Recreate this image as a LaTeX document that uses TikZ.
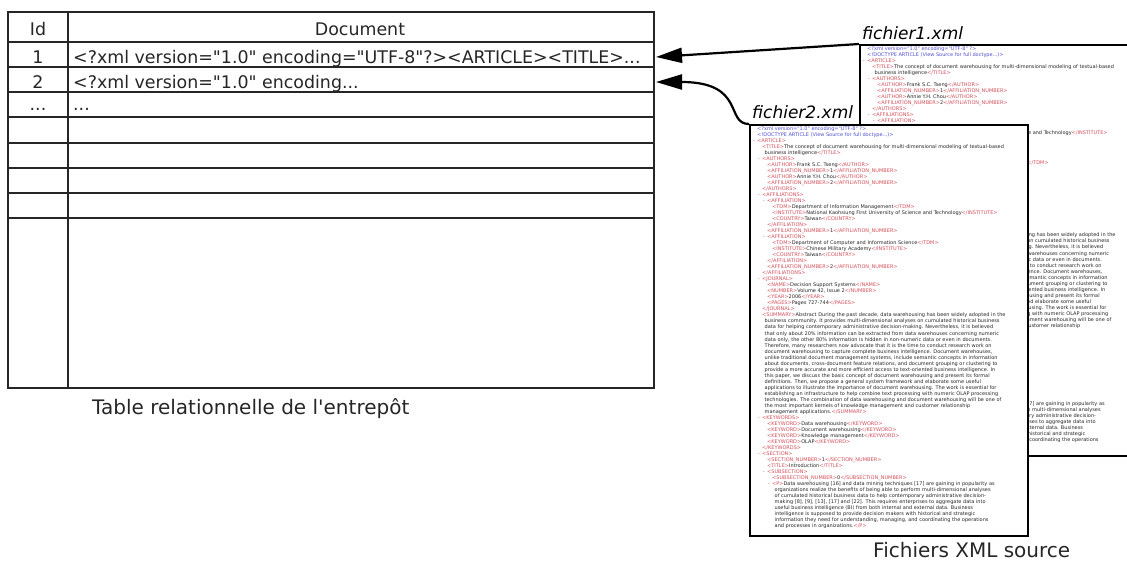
\documentclass[tikz,border=0pt]{standalone}
\usepackage{fontspec}
\setmainfont{DejaVu Sans}[Ligatures=TeXOff]
\usetikzlibrary{arrows.meta}
\definecolor{tagc}{RGB}{210,80,90}
\definecolor{declc}{RGB}{80,80,210}
\definecolor{txtc}{RGB}{40,40,40}
\newlength\xmlindent \setlength\xmlindent{5pt}
\newcommand\ind[1]{\hspace*{#1\xmlindent}}
\newcommand\mm{\llap{\textcolor{tagc}{-}\hspace{2.5pt}}}
\newcommand\tg[1]{\textcolor{tagc}{<#1>}}
\newcommand\xmlbody{%
\ind{0}\textcolor{declc}{<?xml version="1.0" encoding="UTF-8" ?>}\\
\ind{0}\textcolor{declc}{<!DOCTYPE ARTICLE (View Source for full doctype...)>}\\
\ind{0}\mm\tg{ARTICLE}\\
\ind{1}\tg{TITLE}The concept of document warehousing for multi-dimensional modeling of textual-based\\
\ind{1.5}business intelligence\tg{/TITLE}\\
\ind{1}\mm\tg{AUTHORS}\\
\ind{2}\tg{AUTHOR}Frank S.C. Tseng\tg{/AUTHOR}\\
\ind{2}\tg{AFFILIATION\_NUMBER}1\tg{/AFFILIATION\_NUMBER}\\
\ind{2}\tg{AUTHOR}Annie Y.H. Chou\tg{/AUTHOR}\\
\ind{2}\tg{AFFILIATION\_NUMBER}2\tg{/AFFILIATION\_NUMBER}\\
\ind{1}\tg{/AUTHORS}\\
\ind{1}\mm\tg{AFFILIATIONS}\\
\ind{2}\mm\tg{AFFILIATION}\\
\ind{3}\tg{TDM}Department of Information Management\tg{/TDM}\\
\ind{3}\tg{INSTITUTE}National Kaohsiung First University of Science and Technology\tg{/INSTITUTE}\\
\ind{3}\tg{COUNTRY}Taiwan\tg{/COUNTRY}\\
\ind{2}\tg{/AFFILIATION}\\
\ind{2}\tg{AFFILIATION\_NUMBER}1\tg{/AFFILIATION\_NUMBER}\\
\ind{2}\mm\tg{AFFILIATION}\\
\ind{3}\tg{TDM}Department of Computer and Information Science\tg{/TDM}\\
\ind{3}\tg{INSTITUTE}Chinese Military Academy\tg{/INSTITUTE}\\
\ind{3}\tg{COUNTRY}Taiwan\tg{/COUNTRY}\\
\ind{2}\tg{/AFFILIATION}\\
\ind{2}\tg{AFFILIATION\_NUMBER}2\tg{/AFFILIATION\_NUMBER}\\
\ind{1}\tg{/AFFILIATIONS}\\
\ind{1}\mm\tg{JOURNAL}\\
\ind{2}\tg{NAME}Decision Support Systems\tg{/NAME}\\
\ind{2}\tg{NUMBER}Volume 42, Issue 2\tg{/NUMBER}\\
\ind{2}\tg{YEAR}2006\tg{/YEAR}\\
\ind{2}\tg{PAGES}Pages 727-744\tg{/PAGES}\\
\ind{1}\tg{/JOURNAL}\\
\ind{1}\tg{SUMMARY}Abstract During the past decade, data warehousing has been widely adopted in the\\
\ind{1.5}business community. It provides multi-dimensional analyses on cumulated historical business\\
\ind{1.5}data for helping contemporary administrative decision-making. Nevertheless, it is believed\\
\ind{1.5}that only about 20\% information can be extracted from data warehouses concerning numeric\\
\ind{1.5}data only, the other 80\% information is hidden in non-numeric data or even in documents.\\
\ind{1.5}Therefore, many researchers now advocate that it is the time to conduct research work on\\
\ind{1.5}document warehousing to capture complete business intelligence. Document warehouses,\\
\ind{1.5}unlike traditional document management systems, include semantic concepts in information\\
\ind{1.5}about documents, cross-document feature relations, and document grouping or clustering to\\
\ind{1.5}provide a more accurate and more efficient access to text-oriented business intelligence. In\\
\ind{1.5}this paper, we discuss the basic concept of document warehousing and present its formal\\
\ind{1.5}definitions. Then, we propose a general system framework and elaborate some useful\\
\ind{1.5}applications to illustrate the importance of document warehousing. The work is essential for\\
\ind{1.5}establishing an infrastructure to help combine text processing with numeric OLAP processing\\
\ind{1.5}technologies. The combination of data warehousing and document warehousing will be one of\\
\ind{1.5}the most important kernels of knowledge management and customer relationship\\
\ind{1.5}management applications.\tg{/SUMMARY}\\
\ind{1}\mm\tg{KEYWORDS}\\
\ind{2}\tg{KEYWORD}Data warehousing\tg{/KEYWORD}\\
\ind{2}\tg{KEYWORD}Document warehousing\tg{/KEYWORD}\\
\ind{2}\tg{KEYWORD}Knowledge management\tg{/KEYWORD}\\
\ind{2}\tg{KEYWORD}OLAP\tg{/KEYWORD}\\
\ind{1}\tg{/KEYWORDS}\\
\ind{1}\mm\tg{SECTION}\\
\ind{2}\tg{SECTION\_NUMBER}1\tg{/SECTION\_NUMBER}\\
\ind{2}\tg{TITLE}Introduction\tg{/TITLE}\\
\ind{2}\mm\tg{SUBSECTION}\\
\ind{3}\tg{SUBSECTION\_NUMBER}0\tg{/SUBSECTION\_NUMBER}\\
\ind{3}\mm\tg{P}Data warehousing [16] and data mining techniques [17] are gaining in popularity as\\
\ind{3.5}organizations realize the benefits of being able to perform multi-dimensional analyses\\
\ind{3.5}of cumulated historical business data to help contemporary administrative decision-\\
\ind{3.5}making [8], [9], [13], [17] and [22]. This requires enterprises to aggregate data into\\
\ind{3.5}useful business intelligence (BI) from both internal and external data. Business\\
\ind{3.5}intelligence is supposed to provide decision makers with historical and strategic\\
\ind{3.5}information they need for understanding, managing, and coordinating the operations\\
\ind{3.5}and processes in organizations.\tg{/P}}
\begin{document}
\begin{tikzpicture}[x=1pt,y=-1pt,
  grid/.style={line width=1.6pt, draw=black!85},
  cell/.style={inner sep=0pt, font=\fontsize{17.4}{20}\selectfont, text=black!85},
  caption/.style={inner sep=0pt, font=\fontsize{20}{24}\selectfont, text=black!85},
  flabel/.style={inner sep=0pt, font=\fontsize{17}{20}\selectfont\itshape, text=black},
  docframe/.style={draw=black, line width=1.5pt, fill=white, minimum width=278pt, minimum height=411pt, inner sep=0pt},
  xmltext/.style={inner sep=0pt, align=left, font=\fontsize{5.0}{6.03}\selectfont, text=txtc},
  link/.style={line width=2.2pt, draw=black, -{Triangle[length=26pt,width=15pt]}}]
\useasboundingbox (0,0) rectangle (1127,565);
\clip (0,0) rectangle (1127,565);
% table
\draw[grid] (8,12) rectangle (654,388);
\draw[grid] (68,12) -- (68,388);
\foreach \yy in {42,67,92,117,143,168,193,218} \draw[grid] (8,\yy) -- (654,\yy);
\node[cell, anchor=base] (hid) at (38,35) {Id};
\node[cell, anchor=base] (hdoc) at (360,35) {Document};
\node[cell, anchor=base] (id1) at (38,63) {1};
\node[cell, anchor=base west] (doc1) at (73,63) {<?xml version="1.0" encoding="UTF-8"?><ARTICLE><TITLE>...};
\node[cell, anchor=base] (id2) at (38,88) {2};
\node[cell, anchor=base west] (doc2) at (73,88) {<?xml version="1.0" encoding...};
\node[cell, anchor=base] (id3) at (38,110) {...};
\node[cell, anchor=base west] (doc3) at (73,110) {...};
\coordinate (r1) at (656,57);
\coordinate (r2) at (656,82);
\node[caption, anchor=base west] (tcap) at (92,414) {Table relationnelle de l'entrepôt};
% xml files
\node[docframe, anchor=north west] (f1) at (859,44) {};
\node[xmltext, anchor=north west] (t1) at ([xshift=8pt,yshift=-2pt]f1.north west) {\xmlbody};
\node[docframe, anchor=north west] (f2) at (749,124) {};
\node[xmltext, anchor=north west] (t2) at ([xshift=8pt,yshift=-2pt]f2.north west) {\xmlbody};
\node[flabel, anchor=base west] (l1) at (862,39) {fichier1.xml};
\node[flabel, anchor=base west] (l2) at (752,118) {fichier2.xml};
\node[caption, anchor=base west] (fcap) at (873,557) {Fichiers XML source};
% connectors
\draw[link] (f1.north west) -- (r1);
\draw[link] (f2.north west) .. controls +(-24,0) and +(90,0) .. (r2);
\end{tikzpicture}
\end{document}
